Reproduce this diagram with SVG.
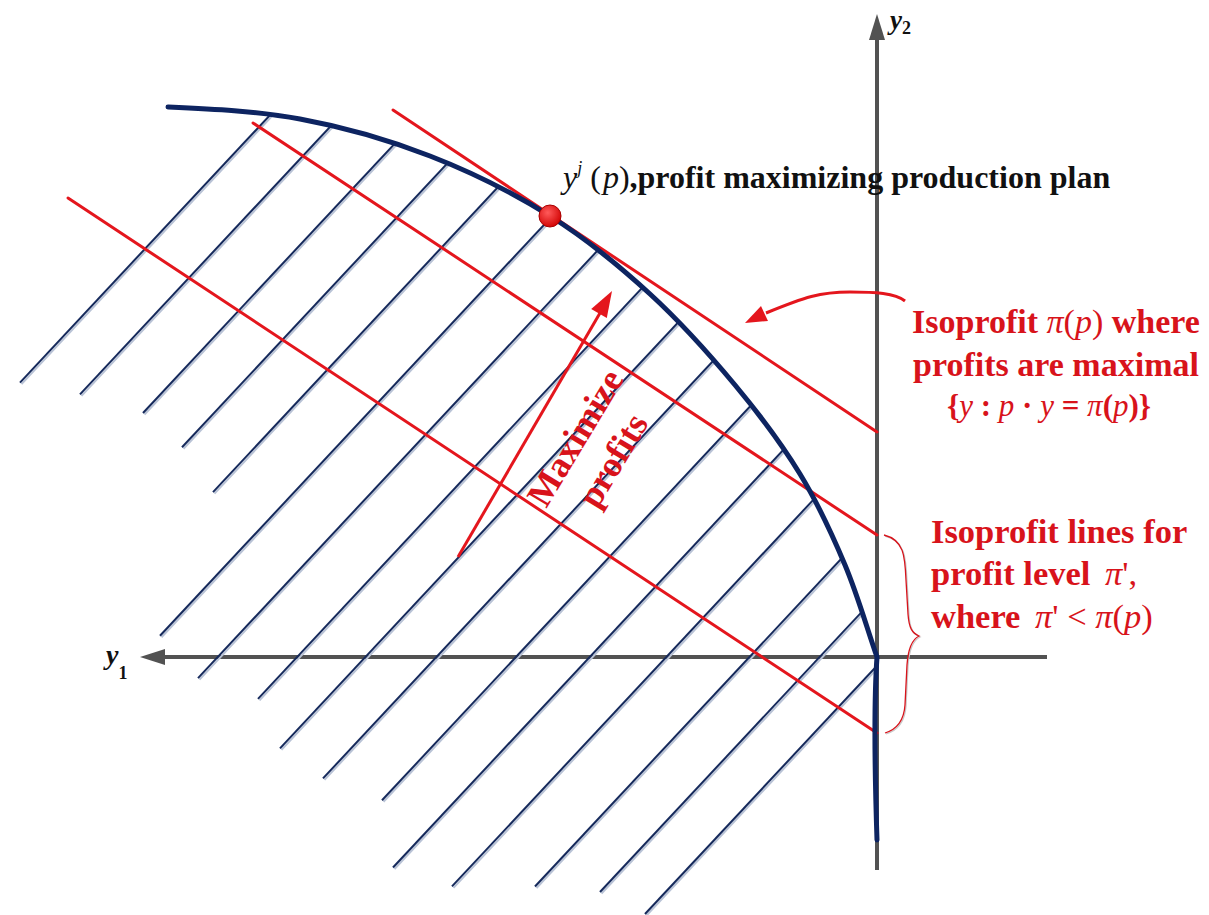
<svg xmlns="http://www.w3.org/2000/svg" xmlns:xlink="http://www.w3.org/1999/xlink" width="1209" height="915" viewBox="0 0 1209 915">
<style>
.axis{stroke:#525252;stroke-width:4;fill:none}
.axhead{fill:#525252}
.hs{stroke:#b9c3d6;stroke-width:2;fill:none}
.h{stroke:#15295b;stroke-width:2;fill:none}
.iso{stroke:#e4161d;stroke-width:3;fill:none;stroke-linecap:round}
.front{stroke:#0d2461;stroke-width:5;fill:none;stroke-linecap:round}
.redarrow{stroke:#e4161d;stroke-width:3;fill:none}
.redhead{fill:#e4161d}
.brace{stroke:#d8131b;stroke-width:1.3;fill:none}
.braces{stroke:#c8c8c8;stroke-width:1.3;fill:none}
.t{font-family:"Liberation Serif","Times New Roman",serif;font-weight:bold}
.red{fill:#d8131b}
.blk{fill:#111}
.m{font-style:italic;font-weight:normal}
.u{font-weight:normal}
</style>
<defs>
<path id="frontier" d="M168,107 C212,109 256.3,111 300,119 C343.7,127 388.3,139.8 430,156 C471.7,172.2 513.3,193 550,216 C586.7,239 619.2,265.8 650,294 C680.8,322.2 710,355 735,385 C760,415 781.7,444 800,474 C818.3,504 832.2,534.5 845,565 C857.8,595.5 866.3,626.3 877,657 C874,700 875,780 877,840"/>
<clipPath id="region">
<path d="M0,107 L168,107 C212,109 256.3,111 300,119 C343.7,127 388.3,139.8 430,156 C471.7,172.2 513.3,193 550,216 C586.7,239 619.2,265.8 650,294 C680.8,322.2 710,355 735,385 C760,415 781.7,444 800,474 C818.3,504 832.2,534.5 845,565 C857.8,595.5 866.3,626.3 877,657 C874,700 875,780 877,840 L877,915 L0,915 Z"/>
</clipPath>
<g id="hatchlines">
<line x1="20" y1="382.6" x2="820" y2="-473.4"/>
<line x1="80" y1="394.4" x2="880" y2="-461.6"/>
<line x1="143" y1="413" x2="943" y2="-443"/>
<line x1="182" y1="447.3" x2="982" y2="-408.7"/>
<line x1="213" y1="492.1" x2="1013" y2="-363.9"/>
<line x1="160" y1="635.8" x2="960" y2="-220.2"/>
<line x1="198" y1="678.1" x2="998" y2="-177.9"/>
<line x1="258" y1="698.9" x2="1058" y2="-157.1"/>
<line x1="280" y1="748.4" x2="1080" y2="-107.6"/>
<line x1="323" y1="778.4" x2="1123" y2="-77.6"/>
<line x1="382" y1="800.3" x2="1182" y2="-55.7"/>
<line x1="393" y1="867.5" x2="1193" y2="11.5"/>
<line x1="452" y1="886.4" x2="1252" y2="30.4"/>
<line x1="535" y1="886.5" x2="1335" y2="30.5"/>
<line x1="600" y1="892" x2="1400" y2="36"/>
<line x1="645" y1="914" x2="1445" y2="58"/>
</g>
<radialGradient id="dotg" cx="0.4" cy="0.35" r="0.7">
<stop offset="0" stop-color="#ff5a5a"/>
<stop offset="1" stop-color="#d00000"/>
</radialGradient>
</defs>
<rect width="1209" height="915" fill="#fff"/>

<g id="axes">
<line class="axis" x1="877" y1="870" x2="877" y2="36"/>
<polygon class="axhead" points="877,14 869,40 885,40"/>
<line class="axis" x1="1047" y1="657" x2="160" y2="657"/>
<polygon class="axhead" points="140,657 165,649 165,665"/>
</g>

<g id="hatch" clip-path="url(#region)">
<use xlink:href="#hatchlines" class="hs" transform="translate(1.5,1.5)"/>
<use xlink:href="#hatchlines" class="h"/>
</g>

<g id="isoprofit-lines">
<line class="iso" x1="393" y1="110" x2="877" y2="432"/>
<line class="iso" x1="253" y1="123" x2="877" y2="535"/>
<line class="iso" x1="68" y1="198" x2="877" y2="733"/>
</g>

<g id="frontier-curve">
<use xlink:href="#frontier" class="front"/>
</g>

<g id="optimum">
<circle cx="550" cy="216" r="11" fill="url(#dotg)" stroke="#a80000" stroke-width="1"/>
</g>

<g id="connectors">
<line class="redarrow" x1="458" y1="557" x2="600" y2="313"/>
<polygon class="redhead" points="612,291 606.8,318 591.2,309"/>
<path class="redarrow" d="M905,301 C895,293 875,292 850,292 C820,292 805,297 766,313"/>
<polygon class="redhead" points="745,323 768,321 761,306"/>
<path class="braces" transform="translate(1,1)" d="M884,535 C904,540 905,556 906,580 L908,614 C909,628 912,633 919,636 C911,640 908,650 907,665 L905,705 C904,720 898,729 885,733"/>
<path class="brace" d="M884,535 C904,540 905,556 906,580 L908,614 C909,628 912,633 919,636 C911,640 908,650 907,665 L905,705 C904,720 898,729 885,733"/>
</g>

<g id="axis-labels">
<text class="t blk" x="890" y="29" font-size="27"><tspan font-style="italic">y</tspan><tspan font-size="18" dy="5">2</tspan></text>
<text class="t blk" x="106" y="664" font-size="28"><tspan font-style="italic">y</tspan><tspan font-size="18" dy="15">1</tspan></text>
</g>

<g id="label-optimum">
<text class="t blk" x="563" y="188" font-size="32"><tspan class="m">y</tspan><tspan class="m" font-size="18" dy="-14">j</tspan><tspan class="u" dy="14" dx="8">(</tspan><tspan class="m" dx="2">p</tspan><tspan class="u">)</tspan>,profit maximizing production plan</text>
</g>

<g id="label-max-isoprofit">
<text class="t red" text-anchor="middle" x="1056" y="333" font-size="34">Isoprofit <tspan class="m">π</tspan><tspan class="u">(</tspan><tspan class="m">p</tspan><tspan class="u">)</tspan> where</text>
<text class="t red" text-anchor="middle" x="1056" y="376" font-size="34">profits are maximal</text>
<text class="t red" text-anchor="middle" x="1049" y="416" font-size="31" font-weight="normal">{<tspan class="m">y</tspan> : <tspan class="m">p</tspan> · <tspan class="m">y</tspan> = <tspan class="m">π</tspan>(<tspan class="m">p</tspan>)}</text>
</g>

<g id="label-lower-isoprofit">
<text class="t red" x="931" y="543" font-size="34.5">Isoprofit lines for</text>
<text class="t red" x="931" y="585" font-size="34.5">profit level <tspan class="m" dx="6">π</tspan><tspan class="u">',</tspan></text>
<text class="t red" x="931" y="628" font-size="34.5">where <tspan class="m" dx="6">π</tspan><tspan class="u">' &lt; </tspan><tspan class="m">π</tspan><tspan class="u">(</tspan><tspan class="m">p</tspan><tspan class="u">)</tspan></text>
</g>

<g id="label-maximize" transform="translate(594,449) rotate(-59)">
<text class="t red" text-anchor="middle" x="0" y="-10" font-size="36">Maximize</text>
<text class="t red" text-anchor="middle" x="0" y="34" font-size="36">profits</text>
</g>
</svg>
